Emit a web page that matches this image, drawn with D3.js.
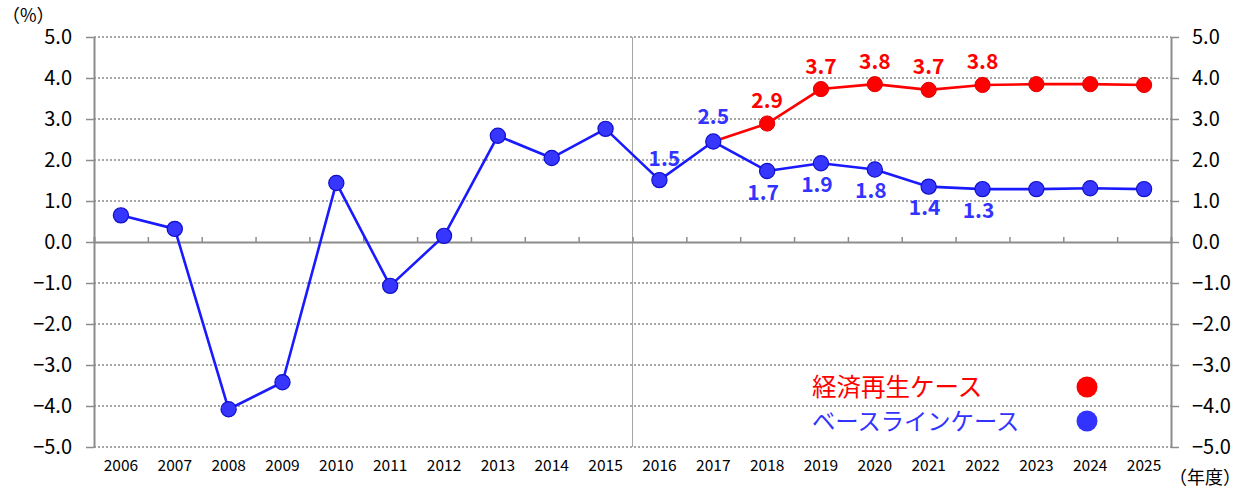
<!DOCTYPE html>
<html>
<head>
<meta charset="utf-8">
<script src="https://cdn.jsdelivr.net/npm/d3@7"></script>
<style>
  body { margin: 0; background: #fff; }
  svg { display: block; font-family: "Noto Sans CJK JP", "Noto Sans", sans-serif; }
</style>
</head>
<body>
<div id="chart"></div>
<script>
const years = ['2006','2007','2008','2009','2010','2011','2012','2013','2014','2015',
               '2016','2017','2018','2019','2020','2021','2022','2023','2024','2025'];
const baseline = [0.65, 0.32, -4.08, -3.42, 1.44, -1.07, 0.15, 2.59, 2.05, 2.76,
                  1.51, 2.45, 1.73, 1.92, 1.77, 1.35, 1.29, 1.29, 1.31, 1.29];
const revivalYears = ['2017','2018','2019','2020','2021','2022','2023','2024','2025'];
const revival = [2.45, 2.89, 3.73, 3.85, 3.71, 3.83, 3.85, 3.85, 3.83];
const baselineLabels = {'2016': '1.5', '2017': '2.5', '2018': '1.7', '2019': '1.9', '2020': '1.8', '2021': '1.4', '2022': '1.3'};
const revivalLabels = {'2018': '2.9', '2019': '3.7', '2020': '3.8', '2021': '3.7', '2022': '3.8'};
const yTicks = [-5, -4, -3, -2, -1, 0, 1, 2, 3, 4, 5];
const legendNames = ['経済再生ケース', 'ベースラインケース'];

const width = 1241, height = 490;
const margin = {top: 37, right: 70, bottom: 43, left: 94};

const red = '#ff0000';
const blue = '#1a1aff';
const blueFill = '#3636ff';
const grey = '#8c8c8c';

const svg = d3.select('#chart').append('svg')
    .attr('width', width)
    .attr('height', height);

const x = d3.scaleBand()
    .domain(years)
    .range([margin.left, width - margin.right])
    .padding(0);
const xBound = d3.scaleLinear()
    .domain([0, years.length])
    .range([margin.left, width - margin.right]);
const y = d3.scaleLinear()
    .domain([-5, 5])
    .range([height - margin.bottom, margin.top]);

const cx = d => x(d) + x.bandwidth() / 2;
const fmt = d => (d < 0 ? '\u2212' : '') + Math.abs(d).toFixed(1);

// gridlines (dotted)
svg.append('g')
    .selectAll('line')
    .data(yTicks.filter(d => d !== 0))
    .enter()
    .append('line')
    .attr('x1', margin.left)
    .attr('x2', width - margin.right)
    .attr('y1', d => y(d))
    .attr('y2', d => y(d))
    .attr('stroke', '#8a8a8a')
    .attr('stroke-width', 1.4)
    .attr('stroke-dasharray', '2,2');

// vertical separator at 2016
svg.append('line')
    .attr('x1', x('2016'))
    .attr('x2', x('2016'))
    .attr('y1', y(5))
    .attr('y2', y(-5))
    .attr('stroke', '#a6a6a6')
    .attr('stroke-width', 1);

// zero axis with ticks upward at band boundaries
const zeroAxis = svg.append('g')
    .attr('transform', `translate(0,${y(0)})`)
    .call(d3.axisTop(xBound).tickValues(d3.range(1, years.length)).tickSize(5).tickFormat(''));
zeroAxis.select('.domain').attr('stroke', grey).attr('stroke-width', 2);
zeroAxis.selectAll('.tick line').attr('stroke', grey).attr('stroke-width', 1.5);

// left axis
const yLeft = svg.append('g')
    .attr('transform', `translate(${margin.left},0)`)
    .call(d3.axisLeft(y).tickValues(yTicks).tickSize(8).tickSizeOuter(0).tickPadding(14).tickFormat(fmt));
// right axis
const yRight = svg.append('g')
    .attr('transform', `translate(${width - margin.right},0)`)
    .call(d3.axisRight(y).tickValues(yTicks).tickSize(8).tickSizeOuter(0).tickPadding(13).tickFormat(fmt));
[yLeft, yRight].forEach(a => {
    a.select('.domain').attr('stroke', grey).attr('stroke-width', 2);
    a.selectAll('.tick line').attr('stroke', grey).attr('stroke-width', 1.5);
    a.selectAll('.tick text')
        .attr('fill', '#000')
        .style('font-size', '20px')
        .style('font-family', '"Noto Sans CJK JP", sans-serif');
});

// x labels
const xAxis = svg.append('g')
    .attr('transform', `translate(0,${y(-5)})`)
    .call(d3.axisBottom(x).tickSize(0).tickPadding(13));
xAxis.select('.domain').remove();
xAxis.selectAll('.tick text')
    .attr('fill', '#000')
    .style('font-size', '15.5px')
    .style('font-family', '"Noto Sans CJK JP", sans-serif');

// unit labels
svg.append('text')
    .attr('x', 2)
    .attr('y', 22)
    .style('font-size', '18px')
    .text('（%）');
svg.append('text')
    .attr('x', 1169)
    .attr('y', 484)
    .style('font-size', '18px')
    .text('（年度）');

const line = d3.line().x(d => cx(d[0])).y(d => y(d[1]));

// revival line
svg.append('path')
    .datum(revivalYears.map((d, i) => [d, revival[i]]))
    .attr('fill', 'none')
    .attr('stroke', red)
    .attr('stroke-width', 2.6)
    .attr('d', line);

// baseline line
svg.append('path')
    .datum(years.map((d, i) => [d, baseline[i]]))
    .attr('fill', 'none')
    .attr('stroke', blue)
    .attr('stroke-width', 2.6)
    .attr('stroke-linejoin', 'round')
    .attr('d', line);

// revival markers (from 2018)
svg.append('g')
    .selectAll('circle')
    .data(revivalYears.map((d, i) => [d, revival[i]]).slice(1))
    .enter()
    .append('circle')
    .attr('cx', d => cx(d[0]))
    .attr('cy', d => y(d[1]))
    .attr('r', 7.6)
    .attr('fill', red)
    .attr('stroke', '#e00000')
    .attr('stroke-width', 1);

// baseline markers
svg.append('g')
    .selectAll('circle')
    .data(years.map((d, i) => [d, baseline[i]]))
    .enter()
    .append('circle')
    .attr('cx', d => cx(d[0]))
    .attr('cy', d => y(d[1]))
    .attr('r', 7.6)
    .attr('fill', blueFill)
    .attr('stroke', '#1010c8')
    .attr('stroke-width', 1.2);

// data labels
const labelDy = {'2016': -14.5, '2017': -18};
svg.append('g')
    .selectAll('text')
    .data(Object.keys(baselineLabels))
    .enter()
    .append('text')
    .attr('x', d => cx(d) + (d === '2016' ? 5 : (d === '2017' ? 0 : -4)))
    .attr('y', d => y(baseline[years.indexOf(d)]) + (labelDy[d] !== undefined ? labelDy[d] : 28.5))
    .attr('text-anchor', 'middle')
    .attr('fill', '#3333ff')
    .style('font-size', '21px')
    .style('font-weight', 'bold')
    .text(d => baselineLabels[d]);

svg.append('g')
    .selectAll('text')
    .data(Object.keys(revivalLabels))
    .enter()
    .append('text')
    .attr('x', d => cx(d))
    .attr('y', d => y(revival[revivalYears.indexOf(d)]) - 15.5)
    .attr('text-anchor', 'middle')
    .attr('fill', red)
    .style('font-size', '21px')
    .style('font-weight', 'bold')
    .text(d => revivalLabels[d]);

// legend
const legend = svg.append('g');
legend.selectAll('text')
    .data(legendNames)
    .enter()
    .append('text')
    .attr('x', 812)
    .attr('y', (d, i) => 396 + i * 34)
    .attr('fill', (d, i) => i === 0 ? red : '#3333ff')
    .style('font-size', (d, i) => i === 0 ? '24.5px' : '23.3px')
    .text(d => d);
legend.selectAll('circle')
    .data(legendNames)
    .enter()
    .append('circle')
    .attr('cx', 1087)
    .attr('cy', (d, i) => 387 + i * 34)
    .attr('r', 10.5)
    .attr('fill', (d, i) => i === 0 ? red : '#3333ff');
</script>
</body>
</html>
